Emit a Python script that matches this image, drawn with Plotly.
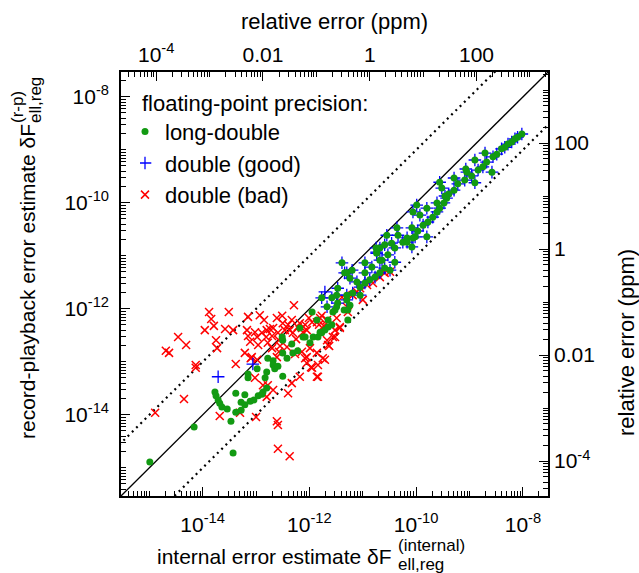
import numpy as np
import plotly.graph_objects as go

FONT = "Liberation Sans, Arial, Helvetica, sans-serif"

# ---------------- data (stored as log10) ----------------
# long-double results: internal estimate (x) and record-playback estimate (y)
long_double_log_internal = [
    -14.99, -14.16, -13.43, -13.77, -13.75, -13.71, -13.68, -13.64, -13.54, -13.47,
    -13.38, -13.38, -13.28, -13.28, -13.21, -13.21, -13.11, -13.04, -12.96, -12.89,
    -12.87, -12.80, -13.15, -13.15, -12.98, -12.83, -12.80, -12.78, -12.68, -12.68,
    -12.65, -12.59, -12.50, -12.51, -12.50, -12.50, -12.42, -12.33, -12.31, -12.22,
    -12.18, -12.12, -12.08, -11.99, -11.93, -11.84, -11.77, -11.71, -11.65, -11.58,
    -11.95, -11.86, -11.77, -11.67, -11.58, -11.56, -11.47, -11.35, -11.30, -11.28,
    -11.30, -11.39, -11.47, -11.34, -11.24, -11.20, -11.11, -10.96, -10.96, -10.83,
    -10.74, -10.68, -10.53, -10.49, -10.40, -10.59, -10.68, -10.77, -10.87, -10.96,
    -11.05, -11.19, -11.30, -11.49, -11.49, -11.80, -11.65, -11.52, -11.28, -11.24,
    -11.05, -10.34, -10.17, -10.08, -10.02, -9.80, -10.46, -10.55,
    -8.02, -8.10, -8.15, -8.21, -8.28, -8.34, -8.40, -8.49, -8.56, -8.68,
    -8.75, -8.84, -8.96, -9.09, -9.22, -9.29, -9.39, -9.43, -9.48, -9.56, -9.61,
    -9.69, -9.78, -9.87, -9.97, -10.06, -10.25, -10.40, -10.64,
    -8.71, -8.90, -9.07, -9.05, -8.58, -9.29, -9.56, -9.52, -9.46, -8.90,
    -9.61, -9.80, -9.99, -10.06, -9.93, -10.08, -10.17, -10.36, -10.59, -10.68,
    -10.75, -10.74,
]
long_double_log_rp = [
    -14.89, -14.23, -14.72, -13.57, -13.64, -13.72, -13.78, -13.85, -13.89, -14.12,
    -13.59, -13.95, -13.76, -13.91, -13.62, -13.81, -13.74, -13.72, -13.64, -13.61,
    -13.57, -13.49, -13.23, -13.30, -13.13, -13.30, -13.19, -12.93, -12.98, -13.06,
    -13.13, -13.08, -13.27, -12.53, -12.59, -12.83, -12.93, -12.66, -12.83, -12.79,
    -12.36, -12.53, -12.53, -12.64, -12.53, -12.53, -12.45, -12.40, -12.34, -12.30,
    -12.06, -12.21, -11.79, -11.96, -11.79, -12.06, -11.89, -12.02, -11.83, -12.21,
    -11.32, -11.13, -11.61, -11.32, -11.42, -11.27, -11.49, -11.13, -11.32, -11.21,
    -10.93, -11.08, -10.98, -11.27, -11.12, -11.23, -11.32, -11.40, -11.45, -11.51,
    -11.59, -11.70, -11.74, -11.74, -11.96, -12.44, -12.21, -12.02, -12.02, -11.93,
    -11.74, -10.61, -10.66, -10.83, -10.64, -10.64, -10.76, -10.61,
    -8.70, -8.76, -8.79, -8.85, -8.89, -8.95, -8.98, -9.08, -9.13, -9.23,
    -9.32, -9.38, -9.49, -9.57, -9.64, -9.76, -9.83, -9.91, -10.00, -10.10, -10.17,
    -10.27, -10.36, -10.42, -10.53, -10.66, -10.74, -10.85, -11.08,
    -9.06, -9.19, -9.36, -9.42, -9.42, -9.53, -9.61, -9.72, -9.87, -9.62,
    -10.00, -10.10, -10.04, -10.17, -10.23, -10.47, -10.74, -10.47, -10.79, -10.85,
    -10.85, -10.95,
]

# double precision, good results
double_good_log_internal = [
    -13.71, -13.06, -11.71,
    -11.77, -11.67, -11.58, -11.47, -11.30, -11.30, -11.39, -11.47, -11.34, -11.24,
    -11.20, -11.11, -10.96, -10.96, -10.83, -10.74, -10.68, -10.53, -10.49, -10.40,
    -10.59, -10.68, -10.77, -10.87, -10.96, -11.05, -11.19, -11.30, -11.49, -11.05,
    -10.34, -10.17, -10.08, -10.02, -9.80, -10.46, -10.55,
    -8.02, -8.10, -8.15, -8.21, -8.28, -8.34, -8.40, -8.49, -8.56, -8.68,
    -8.75, -8.84, -8.96, -9.09, -9.22, -9.29, -9.39, -9.43, -9.48, -9.56, -9.61,
    -9.69, -9.78, -9.87, -9.97, -10.06, -10.25, -10.40, -10.64,
    -8.71, -8.90, -9.07, -9.05, -8.58, -9.29, -9.56, -9.52, -9.46, -8.90,
    -9.61, -9.80, -9.99, -10.06, -9.93, -10.08, -10.17, -10.36, -10.59, -10.68,
    -10.75, -10.74,
]
double_good_log_rp = [
    -13.28, -13.04, -11.68,
    -11.79, -11.96, -11.79, -11.89, -11.83, -11.32, -11.13, -11.61, -11.32, -11.42,
    -11.27, -11.49, -11.13, -11.32, -11.21, -10.93, -11.08, -10.98, -11.27, -11.12,
    -11.23, -11.32, -11.40, -11.45, -11.51, -11.59, -11.70, -11.74, -11.74, -11.74,
    -10.61, -10.66, -10.83, -10.64, -10.64, -10.76, -10.61,
    -8.70, -8.76, -8.79, -8.85, -8.89, -8.95, -8.98, -9.08, -9.13, -9.23,
    -9.32, -9.38, -9.49, -9.57, -9.64, -9.76, -9.83, -9.91, -10.00, -10.10, -10.17,
    -10.27, -10.36, -10.42, -10.53, -10.66, -10.74, -10.85, -11.08,
    -9.06, -9.19, -9.36, -9.42, -9.42, -9.53, -9.61, -9.72, -9.87, -9.62,
    -10.00, -10.10, -10.04, -10.17, -10.23, -10.47, -10.74, -10.47, -10.79, -10.85,
    -10.85, -10.95,
]

# double precision, bad results
double_bad_log_internal = [
    -14.89, -14.69, -14.63, -14.46, -14.31, -14.35, -14.13, -14.13, -13.96, -13.88,
    -13.84, -13.79, -13.75, -13.73, -13.68, -13.58, -13.51, -13.43, -13.38, -13.30,
    -13.21, -13.15, -13.17, -13.15, -13.11, -13.10, -13.02, -13.00, -13.02, -12.98,
    -12.96, -12.93, -12.85, -12.89, -12.81, -12.80, -12.78, -12.74, -12.70, -12.68,
    -12.61, -12.59, -12.57, -12.55, -12.51, -12.50, -12.46, -12.40, -12.37, -12.33,
    -12.29, -12.31, -12.25, -12.22, -12.18, -12.14, -12.12, -12.08, -12.05, -12.01,
    -11.95, -11.86, -11.82, -11.77, -11.73, -11.67, -11.63, -11.52, -11.43, -11.71,
    -11.84, -11.97, -11.84, -12.18, -12.33, -12.40, -12.61, -12.59, -12.59, -12.37,
    -12.78, -12.87, -12.68, -12.80, -12.61, -12.70, -12.57, -12.42, -12.27, -12.14,
    -12.05, -12.98, -13.08, -12.05, -11.95, -11.86, -11.75, -11.65, -11.56, -11.43,
    -11.49, -11.80, -11.67, -11.86, -11.99, -12.08, -11.28, -11.30, -11.39, -11.19,
    -11.11, -11.05, -11.00, -10.92, -10.81, -10.68, -10.59, -10.49, -11.52,
]
double_bad_log_rp = [
    -13.96, -12.79, -12.83, -12.53, -12.68, -13.70, -13.06, -13.11, -12.40, -12.06,
    -12.19, -12.32, -12.59, -12.74, -14.02, -12.38, -12.06, -12.40, -13.04, -13.96,
    -12.83, -12.15, -12.40, -12.51, -12.62, -12.93, -13.30, -14.04, -12.44, -12.53,
    -12.68, -12.12, -12.21, -12.45, -12.53, -12.40, -12.64, -12.38, -12.51, -12.36,
    -12.17, -12.45, -12.59, -12.70, -12.13, -12.27, -12.40, -12.30, -12.40, -12.21,
    -11.93, -12.45, -12.57, -12.34, -12.27, -12.36, -12.44, -12.30, -12.40, -12.17,
    -12.25, -12.25, -12.30, -12.13, -12.32, -12.21, -12.70, -12.53, -12.36, -12.96,
    -13.06, -13.10, -13.28, -13.28, -13.40, -13.59, -14.12, -14.19, -14.64, -14.78,
    -13.44, -13.44, -13.53, -13.66, -12.91, -12.74, -12.81, -12.72, -12.85, -12.81,
    -12.91, -12.96, -12.91, -13.02, -13.11, -13.28, -12.93, -12.68, -12.53, -12.34,
    -12.17, -12.17, -12.59, -12.83, -12.74, -12.93, -12.06, -11.96, -11.78, -11.74,
    -11.68, -11.61, -11.83, -11.55, -11.51, -11.40, -11.32, -11.30, -12.40,
]

# relative error (ppm) = 1e6 * dF / F  ->  log10(ppm) = log10(dF) + PPM_SHIFT
PPM_SHIFT = 10.87

# axis ranges in decades
LOG_RANGE = [-15.53, -7.53]
PPM_RANGE = [LOG_RANGE[0] + PPM_SHIFT, LOG_RANGE[1] + PPM_SHIFT]

x_major = [1e-14, 1e-12, 1e-10, 1e-8]
x_major_text = ["10<sup>-14</sup>", "10<sup>-12</sup>", "10<sup>-10</sup>", "10<sup>-8</sup>"]
ppm_major = [1e-4, 1e-2, 1, 100]
ppm_major_text = ["10<sup>-4</sup>", "0.01", "1", "100"]


def minor_ticks(d0, d1, majors):
    vals = []
    for d in range(d0, d1 + 1):
        for k in range(1, 10):
            v = k * 10.0 ** d
            if k == 1 and any(abs(v / m - 1) < 1e-9 for m in majors):
                continue
            vals.append(v)
    return vals


x_minor = minor_ticks(-16, -8, x_major)
ppm_minor = minor_ticks(-5, 3, ppm_major)

# ---------------- geometry ----------------
W, H = 639, 573
ML, MR, MT, MB = 121, 91, 72, 77
PW, PH = W - ML - MR, H - MT - MB


def px(xp):
    return (xp - ML) / PW


def py(yp):
    return (H - MB - yp) / PH


fig = go.Figure()

# reference lines y = x, y = 10x, y = x/10
ref = np.array([1e-17, 1e-6])
fig.add_trace(go.Scatter(x=ref, y=ref, mode="lines", line=dict(color="black", width=1.3),
                         showlegend=False, hoverinfo="skip"))
fig.add_trace(go.Scatter(x=ref, y=ref * 10, mode="lines",
                         line=dict(color="black", width=2.2, dash="2px,4px"),
                         showlegend=False, hoverinfo="skip"))
fig.add_trace(go.Scatter(x=ref, y=ref / 10, mode="lines",
                         line=dict(color="black", width=2.2, dash="2px,4px"),
                         showlegend=False, hoverinfo="skip"))

fig.add_trace(go.Scatter(
    x=10 ** np.array(double_bad_log_internal), y=10 ** np.array(double_bad_log_rp),
    mode="markers", name="double (bad)", legendrank=3,
    marker=dict(symbol="x-thin", size=8, color="#ff0000", line=dict(color="#ff0000", width=1.5)),
))
fig.add_trace(go.Scatter(
    x=10 ** np.array(double_good_log_internal), y=10 ** np.array(double_good_log_rp),
    mode="markers", name="double (good)", legendrank=2,
    marker=dict(symbol="cross-thin", size=9, color="#0000ff", line=dict(color="#0000ff", width=1.3)),
))
fig.add_trace(go.Scatter(
    x=10 ** np.array(long_double_log_internal), y=10 ** np.array(long_double_log_rp),
    mode="markers", name="long-double", legendrank=1,
    marker=dict(symbol="circle", size=7, color="#129a12", line=dict(width=0)),
))
# invisible trace to activate secondary axes
fig.add_trace(go.Scatter(x=[1], y=[1], xaxis="x2", yaxis="y2", mode="markers",
                         marker=dict(opacity=0), showlegend=False, hoverinfo="skip"))

axis_common = dict(
    type="log", showline=True, linecolor="black", linewidth=1.6, mirror=False,
    ticks="inside", ticklen=9, tickwidth=1.2, tickcolor="black",
    showgrid=False, zeroline=False,
    tickfont=dict(family=FONT, size=21, color="black"),
)
minor_common = dict(ticks="inside", ticklen=5, tickwidth=1, tickcolor="black", showgrid=False)

fig.update_layout(
    width=W, height=H,
    margin=dict(l=ML, r=MR, t=MT, b=MB),
    paper_bgcolor="white", plot_bgcolor="white",
    font=dict(family=FONT, size=21, color="black"),
    xaxis=dict(axis_common, range=LOG_RANGE, tickvals=x_major, ticktext=x_major_text,
               ticklabelstandoff=9, minor=dict(minor_common, tickvals=x_minor)),
    yaxis=dict(axis_common, range=LOG_RANGE, tickvals=x_major, ticktext=x_major_text,
               ticklabelstandoff=6, minor=dict(minor_common, tickvals=x_minor)),
    xaxis2=dict(axis_common, range=PPM_RANGE, overlaying="x", side="top", anchor="y",
                tickvals=ppm_major, ticktext=ppm_major_text,
                minor=dict(minor_common, tickvals=ppm_minor)),
    yaxis2=dict(axis_common, range=PPM_RANGE, overlaying="y", side="right", anchor="x",
                tickvals=ppm_major, ticktext=ppm_major_text,
                minor=dict(minor_common, tickvals=ppm_minor)),
    showlegend=True,
    legend=dict(x=px(140), y=py(82), xanchor="left", yanchor="top",
                bgcolor="rgba(0,0,0,0)", borderwidth=0,
                font=dict(family=FONT, size=22, color="black"),
                title=dict(text="floating-point precision:", font=dict(family=FONT, size=22, color="black")),
                indentation=-15, tracegroupgap=0),
)

SUB = 17
ann = [
    # top title
    dict(text="relative error (ppm)", x=px(334), y=py(22), xanchor="center", yanchor="middle", font=dict(size=22)),
    # right title
    dict(text="relative error (ppm)", x=px(626), y=py(343), xanchor="center", yanchor="middle", textangle=-90,
         font=dict(size=22)),
    # bottom title
    dict(text="internal error estimate δF", x=px(394), y=py(556), xanchor="right", yanchor="middle",
         font=dict(size=21)),
    dict(text="(internal)", x=px(396), y=py(545), xanchor="left", yanchor="middle", font=dict(size=SUB)),
    dict(text="ell,reg", x=px(396), y=py(564), xanchor="left", yanchor="middle", font=dict(size=SUB)),
    # left title
    dict(text="record-playback error estimate δF", x=px(27), y=py(282), xanchor="center", yanchor="middle",
         textangle=-90, font=dict(size=21)),
    dict(text="(r-p)", x=px(18), y=py(107), xanchor="center", yanchor="middle", textangle=-90, font=dict(size=SUB)),
    dict(text="ell,reg", x=px(35), y=py(100), xanchor="center", yanchor="middle", textangle=-90, font=dict(size=SUB)),
]
for a in ann:
    a.update(xref="paper", yref="paper", showarrow=False)
    a["font"] = dict(family=FONT, color="black", size=a["font"]["size"])
fig.update_layout(annotations=ann)

fig.write_html("out.html")
